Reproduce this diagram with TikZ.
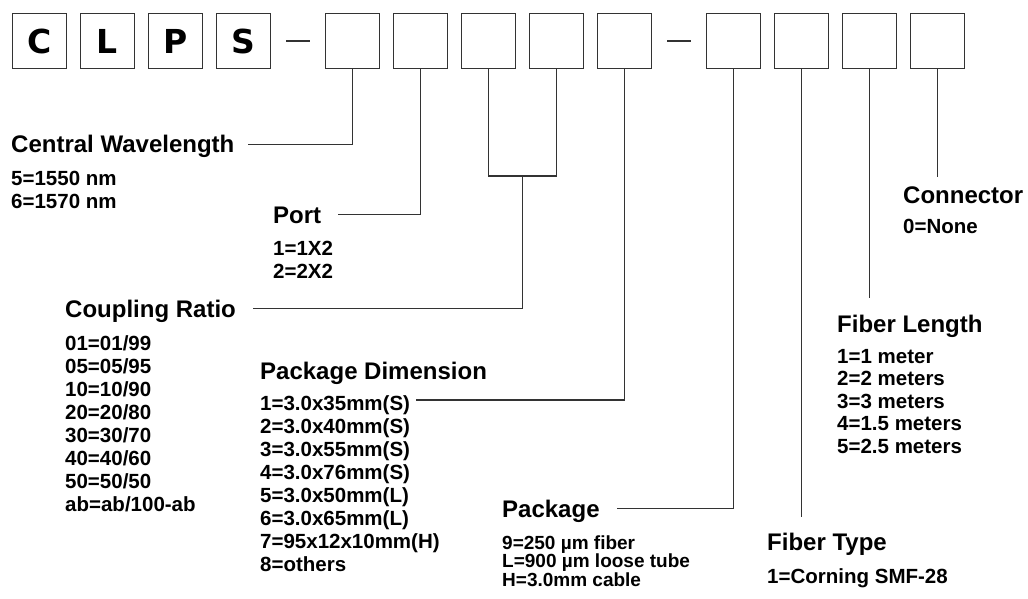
\documentclass[tikz,border=0pt]{standalone}
\usepackage{fontspec}
\setmainfont{Liberation Sans}
\newfontfamily\boxfont{DejaVu Sans}
\usetikzlibrary{positioning,calc}
\newcommand{\fstline}{\rule{0pt}{16pt}}
\tikzset{
  cbox/.style={draw=black!80, line width=1.4pt, minimum width=53.6pt, minimum height=54.6pt, inner sep=0pt, font=\boxfont\fontsize{33}{33}\selectfont\bfseries},
  dbar/.style={fill=black!80, minimum width=24pt, minimum height=2pt, inner sep=0pt, outer sep=0pt},
  ttl/.style={anchor=base west, inner sep=0pt, text height=17pt, text depth=0pt, font=\fontsize{24}{24}\selectfont\bfseries},
  itm/.style={anchor=north west, inner sep=0pt, align=left, font=\fontsize{20.5}{23}\selectfont\bfseries},
  conn/.style={draw=black!80, line width=1.4pt}
}
\begin{document}
\begin{tikzpicture}[x=1pt,y=-1pt]
\useasboundingbox (0,0) rectangle (1028,599);
\node[cbox] (b1) at (39.5,41) {C};
\node[cbox, right=13pt of b1] (b2) {L};
\node[cbox, right=13pt of b2] (b3) {P};
\node[cbox, right=13pt of b3] (b4) {S};
\node[dbar, right=15pt of b4] (d1) {};
\node[cbox, right=15pt of d1] (b5) {};
\node[cbox, right=13pt of b5] (b6) {};
\node[cbox, right=13pt of b6] (b7) {};
\node[cbox, right=13pt of b7] (b8) {};
\node[cbox, right=13pt of b8] (b9) {};
\node[dbar, right=15pt of b9] (d2) {};
\node[cbox, right=15pt of d2] (b10) {};
\node[cbox, right=13pt of b10] (b11) {};
\node[cbox, right=13pt of b11] (b12) {};
\node[cbox, right=13pt of b12] (b13) {};

\node[ttl] (cw) at (11,153) {Central Wavelength};
\node[itm] (cwl) at (11,169) {\fstline 5=1550 nm\\6=1570 nm};
\node[ttl] (pt) at (273,223) {Port};
\node[itm] (ptl) at (273,239) {\fstline 1=1X2\\2=2X2};
\node[ttl] (cr) at (65,317) {Coupling Ratio};
\node[itm] (crl) at (65,334) {\fstline 01=01/99\\05=05/95\\10=10/90\\20=20/80\\30=30/70\\40=40/60\\50=50/50\\ab=ab/100-ab};
\node[ttl] (pd) at (260,379) {Package Dimension};
\node[itm] (pdl) at (260,394) {\fstline 1=3.0x35mm(S)\\2=3.0x40mm(S)\\3=3.0x55mm(S)\\4=3.0x76mm(S)\\5=3.0x50mm(L)\\6=3.0x65mm(L)\\7=95x12x10mm(H)\\8=others};
\coordinate (pdx) at (416,400);
\node[ttl] (pk) at (502,517) {Package};
\node[itm, font=\fontsize{19}{17.5}\selectfont\bfseries] (pkl) at (502,533) {\fstline 9=250 µm fiber\\L=900 µm loose tube\\H=3.0mm cable};
\node[ttl] (ft) at (767,550) {Fiber Type};
\node[itm] (ftl) at (767,567) {\fstline 1=Corning SMF-28};
\node[ttl] (fl) at (837,332) {Fiber Length};
\node[itm, font=\fontsize{20.5}{22.5}\selectfont\bfseries] (fll) at (837,347) {\fstline 1=1 meter\\2=2 meters\\3=3 meters\\4=1.5 meters\\5=2.5 meters};
\node[ttl] (cn) at (903,203) {Connector};
\node[itm] (cnl) at (903,217) {\fstline 0=None};

\coordinate (cpj) at ([yshift=-107pt]$(b7.south)!.5!(b8.south)$);
\draw[conn, shorten >=13pt] (b5.south) |- (cw.east);
\draw[conn, shorten >=17pt] (b6.south) |- (pt.east);
\draw[conn] (b7.south) |- (cpj) -| (b8.south);
\draw[conn, shorten >=17pt] (cpj) |- (cr.east);
\draw[conn] (b9.south) |- (pdx);
\draw[conn, shorten >=17pt] (b10.south) |- (pk.east);
\draw[conn, shorten >=16pt] (b11.south) -- (b11.south |- ft.north);
\draw[conn, shorten >=17pt] (b12.south) -- (b12.south |- fl.north);
\draw[conn, shorten >=9pt] (b13.south) -- (b13.south |- cn.north);
\end{tikzpicture}
\end{document}
